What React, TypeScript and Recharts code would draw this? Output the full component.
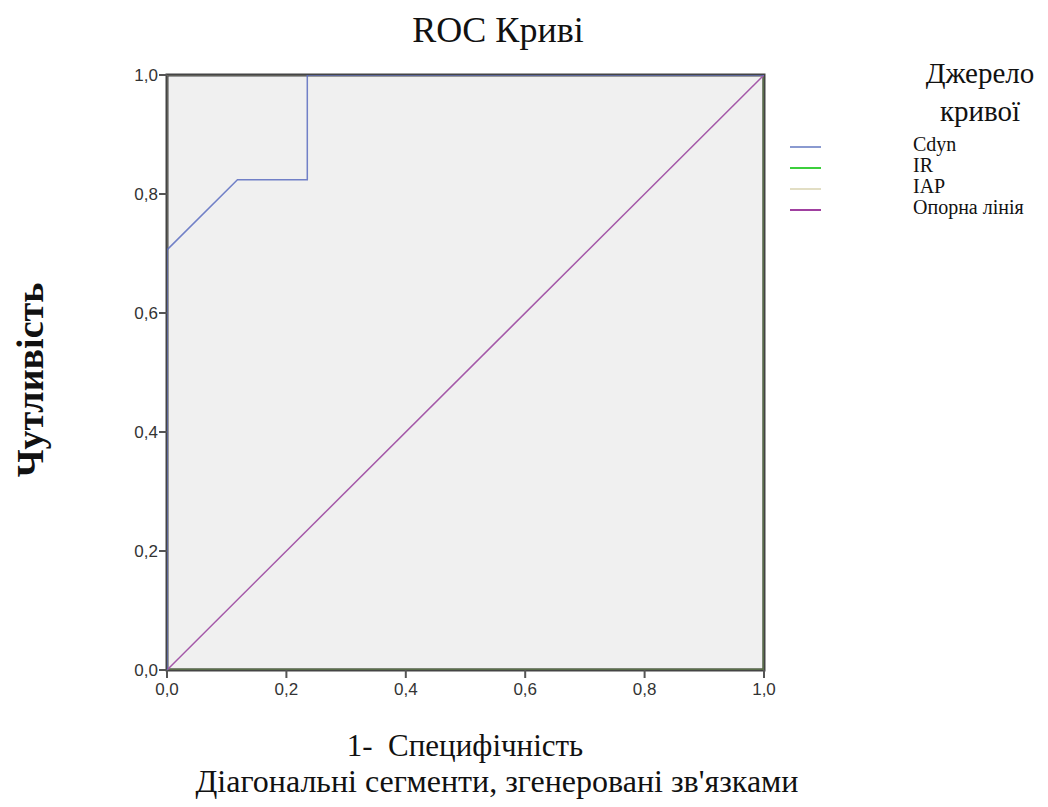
import React from "react";
import { LineChart, Line, XAxis, YAxis, ReferenceArea } from "recharts";

const cdyn = [
  { x: 0, y: 0 },
  { x: 0, y: 0.706 },
  { x: 0.118, y: 0.824 },
  { x: 0.235, y: 0.824 },
  { x: 0.235, y: 1 },
  { x: 1, y: 1 },
];
const ir = [
  { x: 0, y: 0 },
  { x: 1, y: 0 },
  { x: 1, y: 1 },
];
const iap = [
  { x: 0, y: 0 },
  { x: 0, y: 1 },
  { x: 1, y: 1 },
];
const reference = [
  { x: 0, y: 0 },
  { x: 1, y: 1 },
];
const ticks = [0, 0.2, 0.4, 0.6, 0.8, 1];
const legendItems = [
  { name: "Cdyn", color: "#8a9ad0" },
  { name: "IR", color: "#3ccf3c" },
  { name: "IAP", color: "#e2dec4" },
  { name: "Опорна лінія", color: "#a040a0" },
];

const fmt = (v: number) => v.toFixed(1).replace(".", ",");
const serif = "'Liberation Serif', 'Times New Roman', serif";
const sans = "'Liberation Sans', Arial, sans-serif";

export default function App() {
  return (
    <div style={{ position: "relative", width: 1032, height: 791 }}>
      <LineChart
        width={1032}
        height={791}
        margin={{ top: 67, right: 276, bottom: 99, left: 0 }}
      >
        <ReferenceArea x1={0} x2={1} y1={0} y2={1} fill="#f0f0f0" fillOpacity={1} stroke="#444" strokeWidth={3} ifOverflow="visible" />
        <XAxis
          type="number"
          dataKey="x"
          domain={[0, 1]}
          ticks={ticks}
          tickFormatter={fmt}
          height={30}
          axisLine={false}
          tick={{ fontSize: 17, fill: "#333", fontFamily: sans }}
          tickLine={{ stroke: "#555", strokeWidth: 2 }}
          tickSize={8}
          tickMargin={5}
          allowDataOverflow
        />
        <YAxis
          type="number"
          dataKey="y"
          domain={[0, 1]}
          ticks={ticks}
          tickFormatter={fmt}
          width={159}
          axisLine={false}
          tick={{ fontSize: 17, fill: "#333", fontFamily: sans }}
          tickLine={{ stroke: "#555", strokeWidth: 2 }}
          tickSize={8}
          tickMargin={1}
          allowDataOverflow
        />
        <Line data={iap} dataKey="y" type="linear" stroke="#e2dec4" strokeOpacity={0.25} strokeWidth={1.5} dot={false} isAnimationActive={false} />
        <Line data={ir} dataKey="y" type="linear" stroke="#5a6e4a" strokeWidth={3} dot={false} isAnimationActive={false} />
        <Line data={reference} dataKey="y" type="linear" stroke="#a458a8" strokeWidth={1.5} dot={false} isAnimationActive={false} />
        <Line data={cdyn} dataKey="y" type="linear" stroke="#5a6cc0" strokeWidth={1.5} strokeOpacity={0.85} dot={false} isAnimationActive={false} />
      </LineChart>

      <div style={{ position: "absolute", left: 0, width: 980, top: 0, textAlign: "center", fontFamily: serif, fontSize: 36, lineHeight: "44px", color: "#111" }}>
        ROC Криві
      </div>
      <div style={{ position: "absolute", left: 257, width: 400, top: 718, textAlign: "center", fontFamily: serif, fontSize: 31, lineHeight: "40px", color: "#111" }}>
        1-&nbsp; Специфічність
      </div>
      <div style={{ position: "absolute", left: 139, width: 700, top: 755, textAlign: "center", fontFamily: serif, fontSize: 32, lineHeight: "36px", color: "#111" }}>
        Діагональні сегменти, згенеровані зв'язками
      </div>
      <div
        style={{
          position: "absolute",
          left: 22,
          top: 372,
          width: 0,
          height: 0,
        }}
      >
        <div
          style={{
            position: "absolute",
            transform: "translate(-50%, -50%) rotate(-90deg)",
            whiteSpace: "nowrap",
            fontFamily: serif,
            fontWeight: "bold",
            fontSize: 38,
            color: "#111",
          }}
        >
          Чутливість
        </div>
      </div>
      <div style={{ position: "absolute", left: 892, width: 160, top: 46, textAlign: "center", fontFamily: serif, fontSize: 29, lineHeight: "38px", color: "#111" }}>
        Джерело
        <br />
        кривої
      </div>
      {legendItems.map((it, i) => (
        <div key={it.name} style={{ position: "absolute", left: 782, top: 128 + i * 21, height: 21, display: "flex", alignItems: "center" }}>
          <div style={{ width: 31, height: 2, background: it.color, marginRight: 92 }} />
          <span style={{ fontFamily: serif, fontSize: 20, color: "#111", lineHeight: "17px", marginTop: -5 }}>{it.name}</span>
        </div>
      ))}
    </div>
  );
}
